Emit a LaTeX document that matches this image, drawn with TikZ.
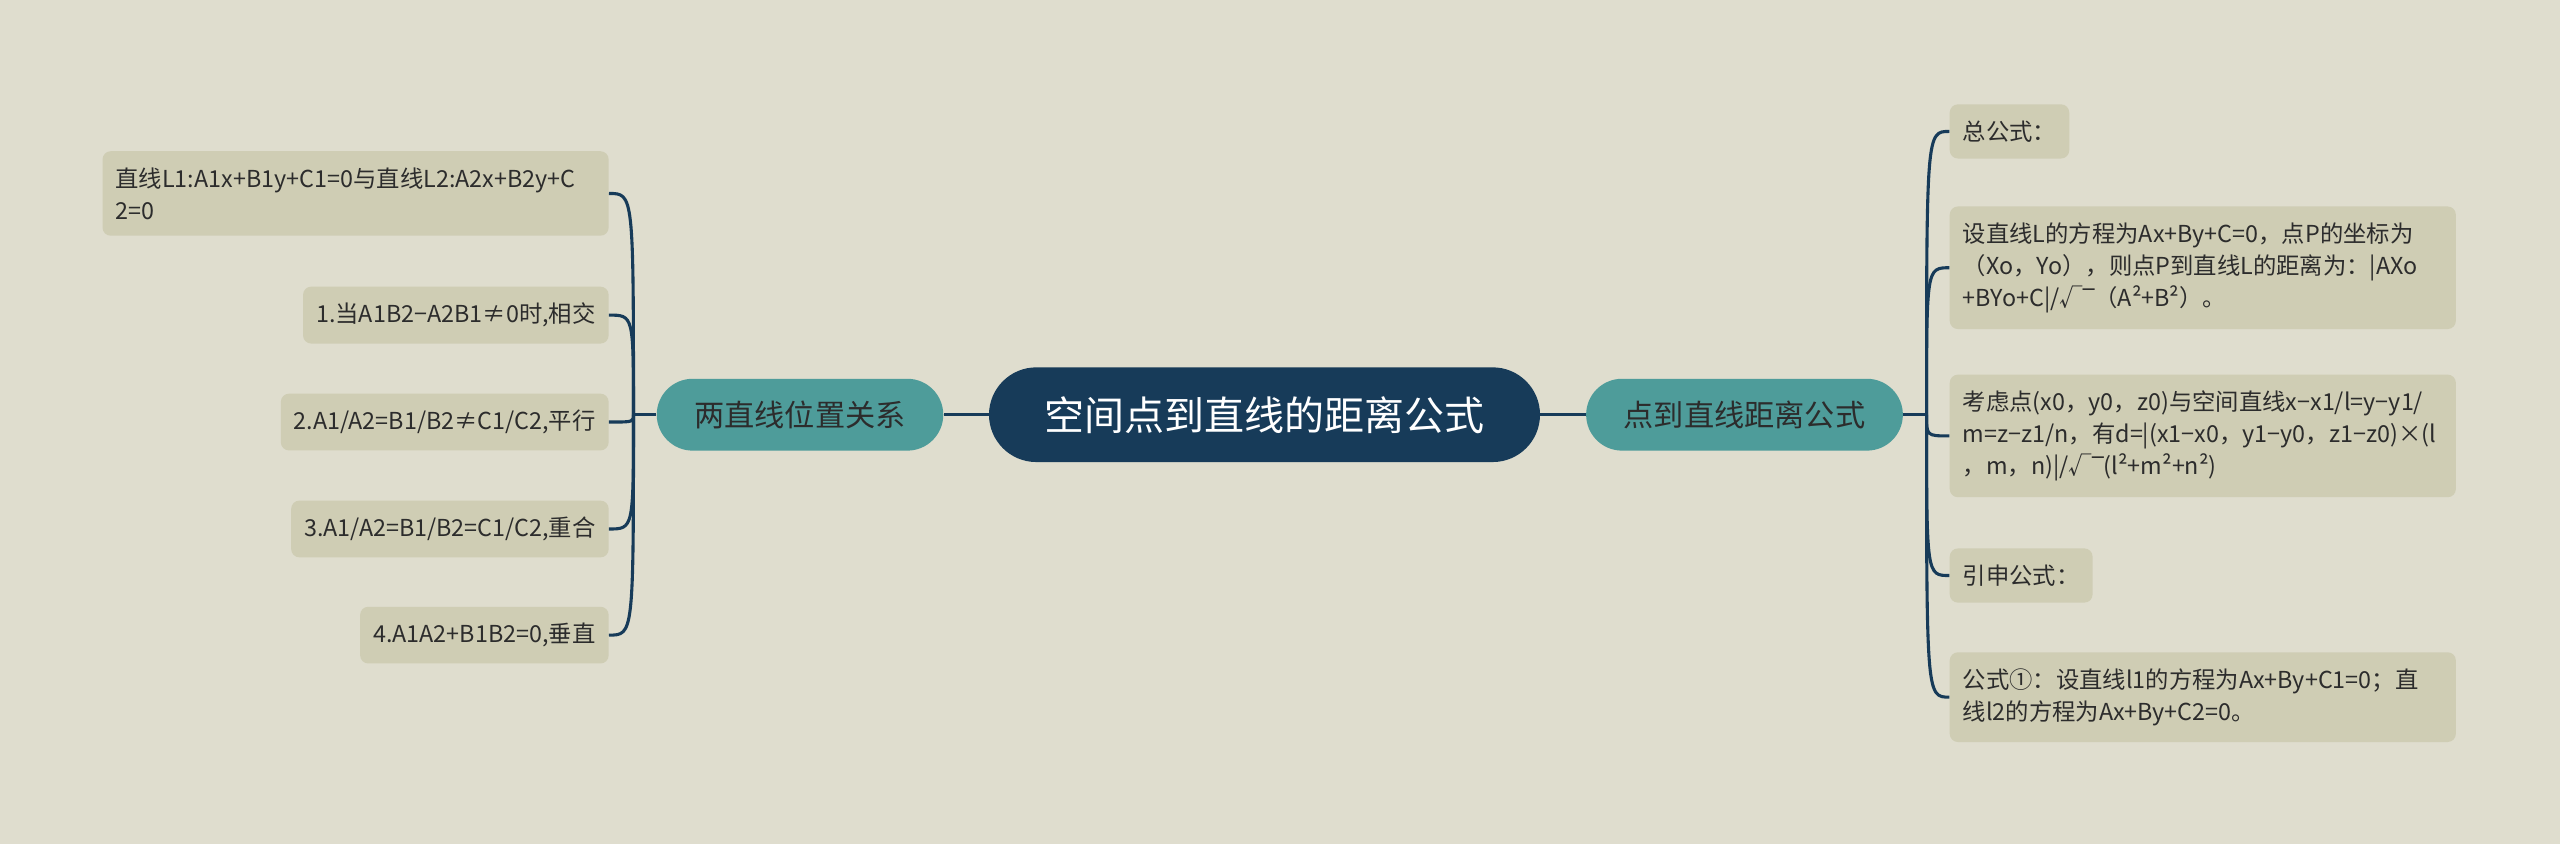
\documentclass[tikz,border=0pt]{standalone}
\usepackage{fontspec}
\setmainfont{Noto Sans CJK SC}
\newfontfamily\symfont{DejaVu Sans}
\usepackage{xcolor}
\usepackage{tikz}

\definecolor{paper}{RGB}{223,221,206}
\definecolor{leafbg}{RGB}{207,205,180}
\definecolor{branchbg}{RGB}{78,156,154}
\definecolor{rootbg}{RGB}{23,59,89}
\definecolor{ink}{RGB}{44,44,44}

\newcommand{\vinc}{{\symfont ‾}}

\begin{document}
\begin{tikzpicture}[x = 1pt, y = -1pt, every text node part/.style={align=left}]
			\tikzstyle{root} = [fill = rootbg, text = white, rounded corners = 29pt, minimum height = 58pt, inner xsep = 34pt, font = \fontsize{24.5}{28}\selectfont]
			\tikzstyle{branch} = [fill = branchbg, text = ink, rounded corners = 22pt, minimum height = 44pt, inner xsep = 23pt, font = \fontsize{18.5}{22}\selectfont]
			\tikzstyle{leaf} = [fill = leafbg, text = ink, rounded corners = 5pt, inner xsep = 8pt, inner ysep = 10pt, font = \fontsize{14.3}{19.5}\selectfont]
			\tikzstyle{wide} = [text width = 294pt]
			\tikzstyle{link} = [draw = rootbg, line width = 1.9pt]

			\fill[paper] (0, 0) rectangle (1568, 517);
			\useasboundingbox (0, 0) rectangle (1568, 517);

			\path (774.5, 254) node[root] (root) {空间点到直线的距离公式};
			\path (490, 254) node[branch] (pos) {两直线位置关系};
			\path (1068.5, 254) node[branch] (dist) {点到直线距离公式};

			\path (373, 118.5) node[leaf, wide, anchor = east] (pos1) {直线L1:A1x+B1y+C1=0与直线L2:A2x+B2y+C\\2=0};
			\path (373, 193) node[leaf, anchor = east] (pos2) {1.当A1B2−A2B1≠0时,相交};
			\path (373, 258.5) node[leaf, anchor = east] (pos3) {2.A1/A2=B1/B2≠C1/C2,平行};
			\path (373, 324) node[leaf, anchor = east] (pos4) {3.A1/A2=B1/B2=C1/C2,重合};
			\path (373, 389) node[leaf, anchor = east] (pos5) {4.A1A2+B1B2=0,垂直};

			\path (1194, 80.5) node[leaf, anchor = west] (dist1) {总公式：};
			\path (1194, 164) node[leaf, wide, anchor = west] (dist2) {设直线L的方程为Ax+By+C=0，点P的坐标为\\（Xo，Yo），则点P到直线L的距离为：|AXo\\+BYo+C|/√\vinc（A²+B²）。};
			\path (1194, 267) node[leaf, wide, anchor = west] (dist3) {考虑点(x0，y0，z0)与空间直线x−x1/l=y−y1/\\m=z−z1/n，有d=|(x1−x0，y1−y0，z1−z0)×(l\\，m，n)|/√\vinc(l²+m²+n²)};
			\path (1194, 352.5) node[leaf, anchor = west] (dist4) {引申公式：};
			\path (1194, 427) node[leaf, wide, anchor = west] (dist5) {公式①：设直线l1的方程为Ax+By+C1=0；直\\线l2的方程为Ax+By+C2=0。};

			\path (388, 254) coordinate (posj);
			\path (1180, 254) coordinate (distj);

			\path[link] (root) -- (pos);
			\path[link] (root) -- (dist);
			\path[link] (pos.west) -- (posj);
			\path[link] (dist.east) -- (distj);

			\path[link] (posj) .. controls (posj |- pos1.east) .. (pos1.east);
			\path[link] (posj) .. controls (posj |- pos2.east) .. (pos2.east);
			\path[link] (posj) .. controls (posj |- pos3.east) .. (pos3.east);
			\path[link] (posj) .. controls (posj |- pos4.east) .. (pos4.east);
			\path[link] (posj) .. controls (posj |- pos5.east) .. (pos5.east);

			\path[link] (distj) .. controls (distj |- dist1.west) .. (dist1.west);
			\path[link] (distj) .. controls (distj |- dist2.west) .. (dist2.west);
			\path[link] (distj) .. controls (distj |- dist3.west) .. (dist3.west);
			\path[link] (distj) .. controls (distj |- dist4.west) .. (dist4.west);
			\path[link] (distj) .. controls (distj |- dist5.west) .. (dist5.west);
\end{tikzpicture}
\end{document}
